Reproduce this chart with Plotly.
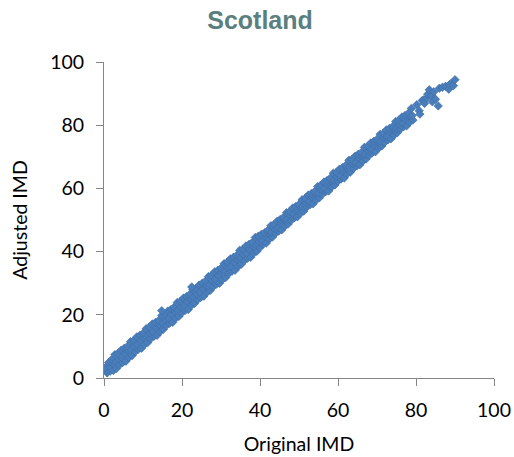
import plotly.graph_objects as go

# Original IMD (x) and Adjusted IMD (y) values
original_imd = [
    0.8, 0.6, 0.4, 1.6, 1.4, 1.2, 2.4, 2.2, 2.0, 3.2, 3.0, 2.8, 4.0, 3.8, 3.6,
    4.8, 4.6, 4.4, 5.6, 5.4, 5.2, 6.4, 6.2, 6.0, 7.2, 7.0, 6.8, 8.0, 7.8, 7.6,
    8.8, 8.6, 8.4, 9.6, 9.4, 9.2, 10.4, 10.2, 10.0, 11.2, 11.0, 10.8, 12.0, 11.8, 11.6,
    12.8, 12.6, 12.4, 13.6, 13.4, 13.2, 14.4, 14.2, 14.0, 15.2, 15.0, 14.8, 16.0, 15.8, 15.6,
    16.8, 16.6, 16.4, 17.6, 17.4, 17.2, 18.4, 18.2, 18.0, 19.2, 19.0, 18.8, 20.0, 19.8, 19.6,
    20.8, 20.6, 20.4, 21.6, 21.4, 21.2, 22.4, 22.2, 22.0, 23.2, 23.0, 22.8, 24.0, 23.8, 23.6,
    24.8, 24.6, 24.4, 25.6, 25.4, 25.2, 26.4, 26.2, 26.0, 27.2, 27.0, 26.8, 28.0, 27.8, 27.6,
    28.8, 28.6, 28.4, 29.6, 29.4, 29.2, 30.4, 30.2, 30.0, 31.2, 31.0, 30.8, 32.0, 31.8, 31.6,
    32.8, 32.6, 32.4, 33.6, 33.4, 33.2, 34.4, 34.2, 34.0, 35.2, 35.0, 34.8, 36.0, 35.8, 35.6,
    36.8, 36.6, 36.4, 37.6, 37.4, 37.2, 38.4, 38.2, 38.0, 39.2, 39.0, 38.8, 40.0, 39.8, 39.6,
    40.8, 40.6, 40.4, 41.6, 41.4, 41.2, 42.4, 42.2, 42.0, 43.2, 43.0, 42.8, 44.0, 43.8, 43.6,
    44.8, 44.6, 44.4, 45.6, 45.4, 45.2, 46.4, 46.2, 46.0, 47.2, 47.0, 46.8, 48.0, 47.8, 47.6,
    48.8, 48.6, 48.4, 49.6, 49.4, 49.2, 50.4, 50.2, 50.0, 51.2, 51.0, 50.8, 52.0, 51.8, 51.6,
    52.8, 52.6, 52.4, 53.6, 53.4, 53.2, 54.4, 54.2, 54.0, 55.2, 55.0, 54.8, 56.0, 55.8, 55.6,
    56.8, 56.6, 56.4, 57.6, 57.4, 57.2, 58.4, 58.2, 58.0, 59.2, 59.0, 58.8, 60.0, 59.8, 59.6,
    60.8, 60.6, 60.4, 61.6, 61.4, 61.2, 62.4, 62.2, 62.0, 63.2, 63.0, 62.8, 64.0, 63.8, 63.6,
    64.8, 64.6, 64.4, 65.6, 65.4, 65.2, 66.4, 66.2, 66.0, 67.2, 67.0, 66.8, 68.0, 67.8, 67.6,
    68.8, 68.6, 68.4, 69.6, 69.4, 69.2, 70.4, 70.2, 70.0, 71.2, 71.0, 70.8, 72.0, 71.8, 71.6,
    72.8, 72.6, 72.4, 73.6, 73.4, 73.2, 74.4, 74.2, 74.0, 75.2, 75.0, 74.8, 76.0, 75.8, 75.6,
    76.8, 76.6, 76.4, 77.6, 77.4, 77.2, 78.4, 78.2, 78.0, 79.2, 79.0, 78.8,
]
adjusted_imd = [
    1.6, 2.3, 3.4, 2.2, 3.6, 4.9, 2.4, 4.7, 5.9, 3.0, 4.9, 7.4, 4.2, 6.0, 7.8,
    4.9, 6.4, 8.8, 5.3, 7.8, 9.4, 6.5, 8.8, 10.0, 7.1, 9.0, 11.5, 8.3, 10.1, 11.9,
    9.1, 10.6, 13.0, 9.4, 11.9, 13.5, 10.6, 12.9, 14.1, 11.2, 13.1, 15.6, 12.5, 14.3, 16.1,
    13.2, 14.7, 17.1, 13.5, 16.0, 17.6, 14.7, 17.0, 18.2, 15.4, 17.3, 19.8, 16.6, 18.4, 20.2,
    17.3, 18.8, 21.2, 17.6, 20.1, 21.7, 18.9, 21.2, 22.4, 19.5, 21.4, 23.9, 20.7, 22.5, 24.3,
    21.4, 22.9, 25.3, 21.7, 24.2, 25.8, 23.0, 25.3, 26.5, 23.6, 25.5, 28.0, 24.8, 26.6, 28.4,
    25.5, 27.0, 29.4, 25.9, 28.4, 30.0, 27.1, 29.4, 30.6, 27.7, 29.6, 32.1, 28.9, 30.7, 32.5,
    29.7, 31.2, 33.6, 30.0, 32.5, 34.1, 31.2, 33.5, 34.7, 31.8, 33.7, 36.2, 33.1, 34.9, 36.6,
    33.8, 35.3, 37.7, 34.1, 36.6, 38.2, 35.3, 37.6, 38.8, 36.0, 37.9, 40.4, 37.2, 39.0, 40.7,
    37.9, 39.4, 41.8, 38.2, 40.7, 42.3, 39.5, 41.8, 42.9, 40.1, 42.0, 44.5, 41.3, 43.1, 44.9,
    42.4, 43.5, 45.5, 42.7, 44.8, 46.0, 44.0, 45.9, 46.7, 44.6, 46.1, 48.2, 45.8, 47.2, 48.6,
    46.5, 47.6, 49.6, 46.9, 49.0, 50.2, 48.1, 50.0, 50.8, 48.7, 50.2, 52.3, 49.9, 51.3, 52.7,
    50.7, 51.8, 53.8, 51.0, 53.1, 54.3, 52.2, 54.1, 54.9, 52.8, 54.3, 56.4, 54.1, 55.5, 56.9,
    54.8, 55.9, 57.9, 55.1, 57.2, 58.4, 56.3, 58.2, 59.0, 57.0, 58.5, 60.6, 58.2, 59.6, 61.0,
    58.9, 60.0, 62.0, 59.2, 61.3, 62.5, 60.5, 62.4, 63.2, 61.1, 62.6, 64.8, 62.3, 63.7, 65.1,
    63.0, 64.1, 66.1, 63.3, 65.4, 66.6, 64.6, 66.5, 67.3, 65.2, 66.7, 68.9, 66.4, 67.8, 69.2,
    67.1, 68.2, 70.2, 67.5, 69.6, 70.8, 68.7, 70.6, 71.4, 69.3, 70.8, 73.0, 70.5, 71.9, 73.3,
    71.3, 72.4, 74.4, 71.6, 73.7, 74.9, 72.8, 74.7, 75.5, 73.4, 74.9, 77.1, 74.6, 76.1, 77.4,
    75.4, 76.5, 78.5, 75.7, 77.8, 79.0, 76.9, 78.8, 79.6, 77.6, 79.1, 81.2, 78.8, 80.2, 81.6,
    79.5, 80.6, 82.6, 79.8, 81.9, 83.1, 81.0, 83.0, 83.7, 81.6, 83.1, 85.3,
]
# sparse upper tail and isolated outliers
tail_original = [80.2, 80.8, 81.0, 81.6, 82.0, 82.2, 82.8, 83.0, 83.4, 84.0, 84.2, 84.6,
                 85.0, 85.7, 86.0, 86.8, 87.6, 88.4, 88.6, 89.0, 89.6, 90.0, 14.8, 22.5]
tail_adjusted = [86.5, 84.6, 83.5, 87.8, 88.0, 86.9, 88.6, 89.8, 91.2, 89.5, 87.4, 90.6,
                 88.2, 86.1, 91.7, 92.0, 92.3, 91.4, 92.8, 93.2, 92.5, 94.4, 21.3, 28.8]

x_ticks = [0, 20, 40, 60, 80, 100]
y_ticks = [0, 20, 40, 60, 80, 100]

FONT = "Lato, Carlito, Calibri, sans-serif"

fig = go.Figure()
fig.add_trace(go.Scatter(
    x=original_imd + tail_original,
    y=adjusted_imd + tail_adjusted,
    mode="markers",
    marker=dict(symbol="diamond", size=6.5, color="#4a7ebb",
                line=dict(color="#3c6ca6", width=0.6)),
    showlegend=False,
))

axis_common = dict(
    showgrid=False, zeroline=False, showline=True, linecolor="#868686", linewidth=1,
    ticks="outside", ticklen=7, tickcolor="#868686", tickwidth=1, automargin=False,
    tickfont=dict(family=FONT, size=19.5, color="#000000"),
)

fig.update_layout(
    width=514, height=457,
    margin=dict(l=104, r=20, t=62, b=79),
    paper_bgcolor="white", plot_bgcolor="white",
    title=dict(text="<b>Scotland</b>", x=260 / 514, xref="container", xanchor="center",
               y=1 - 20 / 457, yref="container", yanchor="middle",
               font=dict(family="Liberation Sans, Arial, sans-serif", size=25, color="#5b7f7f")),
    xaxis=dict(range=[0, 100], tickvals=x_ticks, ticklabelstandoff=8,
               title=dict(text="Original IMD", standoff=16,
                          font=dict(family=FONT, size=19.5, color="#000000")),
               **axis_common),
    yaxis=dict(range=[0, 100], tickvals=y_ticks, ticklabelstandoff=8,
               title=dict(text="Adjusted IMD", standoff=17,
                          font=dict(family=FONT, size=19.5, color="#000000")),
               **axis_common),
)

fig.write_html("out.html")
